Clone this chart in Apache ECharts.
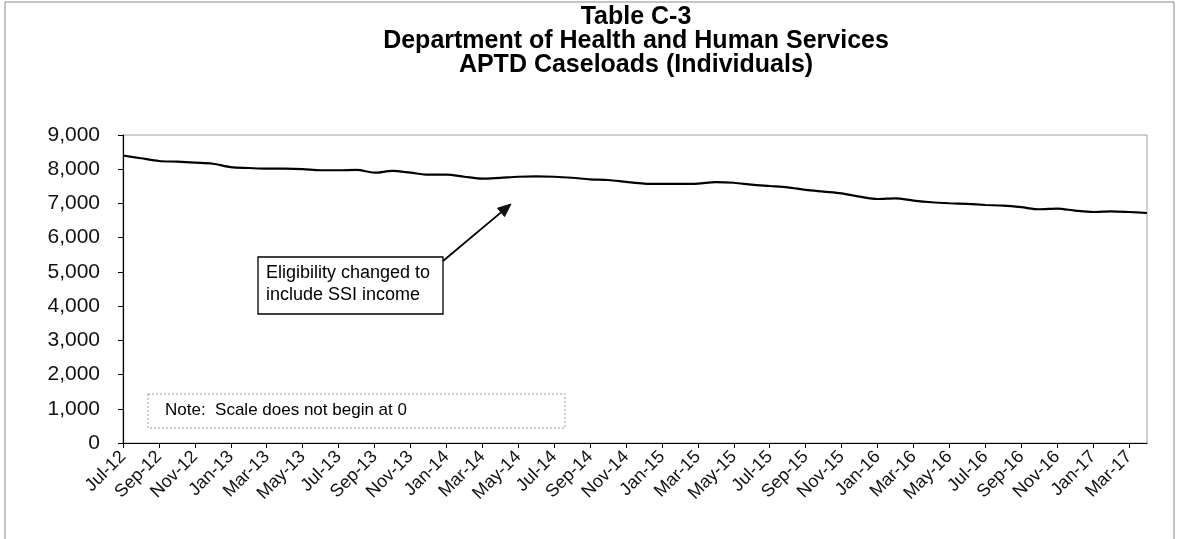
<!DOCTYPE html>
<html>
<head>
<meta charset="utf-8">
<script src="https://cdn.jsdelivr.net/npm/echarts@6/dist/echarts.min.js"></script>
<style>
  html, body { margin: 0; padding: 0; background: #fff; }
  #chart { width: 1179px; height: 539px; }
</style>
</head>
<body>
<div id="chart"></div>
<script>
const titleLines = ['Table C-3', 'Department of Health and Human Services', 'APTD Caseloads (Individuals)'];
const months = [
  'Jul-12','Aug-12','Sep-12','Oct-12','Nov-12','Dec-12',
  'Jan-13','Feb-13','Mar-13','Apr-13','May-13','Jun-13','Jul-13','Aug-13','Sep-13','Oct-13','Nov-13','Dec-13',
  'Jan-14','Feb-14','Mar-14','Apr-14','May-14','Jun-14','Jul-14','Aug-14','Sep-14','Oct-14','Nov-14','Dec-14',
  'Jan-15','Feb-15','Mar-15','Apr-15','May-15','Jun-15','Jul-15','Aug-15','Sep-15','Oct-15','Nov-15','Dec-15',
  'Jan-16','Feb-16','Mar-16','Apr-16','May-16','Jun-16','Jul-16','Aug-16','Sep-16','Oct-16','Nov-16','Dec-16',
  'Jan-17','Feb-17','Mar-17','Apr-17'
];
const caseloads = [
  8400, 8320, 8240, 8220, 8190, 8160,
  8060, 8035, 8015, 8015, 8005, 7970, 7970, 7980, 7900, 7950, 7900, 7840,
  7840, 7780, 7725, 7750, 7780, 7790, 7780, 7750, 7705, 7685, 7630, 7580,
  7570, 7570, 7580, 7625, 7605, 7550, 7510, 7470, 7395, 7345, 7295, 7200,
  7130, 7150, 7085, 7035, 7005, 6985, 6955, 6935, 6890, 6830, 6850, 6790,
  6750, 6770, 6750, 6720
];
const annotationText = ['Eligibility changed to', 'include SSI income'];
const noteText = 'Note:  Scale does not begin at 0';

const chart = echarts.init(document.getElementById('chart'));

// arrow geometry (annotation only)
const tail = [443, 261], tip = [511, 204];
const dx = tip[0] - tail[0], dy = tip[1] - tail[1];
const len = Math.sqrt(dx * dx + dy * dy);
const ux = dx / len, uy = dy / len;
const hl = 13, hw = 5.5;
const bx = tip[0] - hl * ux, by = tip[1] - hl * uy;
const head = [[tip[0], tip[1]], [bx - hw * uy, by + hw * ux], [bx + hw * uy, by - hw * ux]];

const font = 'Arial, "Liberation Sans", sans-serif';

chart.setOption({
  backgroundColor: '#fff',
  animation: false,
  grid: {
    left: 123, right: 32, top: 135, bottom: 96,
    containLabel: false, outerBoundsMode: 'none',
    show: true, borderColor: '#a0a0a0', borderWidth: 1, backgroundColor: 'transparent'
  },
  xAxis: {
    type: 'category',
    data: months,
    boundaryGap: false,
    axisLine: { lineStyle: { color: '#000', width: 1.2 } },
    axisTick: { show: true, interval: 1, length: 5, lineStyle: { color: '#000' } },
    axisLabel: {
      interval: 1, rotate: 45, color: '#111', fontFamily: font, fontSize: 18, margin: 11
    },
    splitLine: { show: false }
  },
  yAxis: {
    type: 'value',
    min: 0, max: 9000, interval: 1000,
    axisLine: { show: true, lineStyle: { color: '#000', width: 1.2 } },
    axisTick: { show: true, length: 5, lineStyle: { color: '#000' } },
    axisLabel: {
      color: '#111', fontFamily: font, fontSize: 21, margin: 23,
      formatter: v => v.toLocaleString('en-US')
    },
    splitLine: { show: false }
  },
  series: [{
    type: 'line',
    data: caseloads,
    showSymbol: false,
    symbol: 'none',
    smooth: 0.3,
    lineStyle: { color: '#000', width: 2.2 },
    z: 5
  }],
  graphic: [
    { type: 'rect', shape: { x: 5, y: 2, width: 1169, height: 600 },
      style: { fill: 'none', stroke: '#8a8a8a', lineWidth: 1 }, silent: true, z: 0 },
    { type: 'text', x: 636, y: 5, style: { text: titleLines.join('\n'), font: 'bold 25px ' + font,
      fill: '#000', textAlign: 'center', lineHeight: 24 } },
    { type: 'rect', shape: { x: 258, y: 257, width: 185, height: 57 },
      style: { fill: '#fff', stroke: '#000', lineWidth: 1.3 }, z: 10 },
    { type: 'text', x: 266, y: 262, z: 11, style: { text: annotationText.join('\n'),
      font: '18px ' + font, fill: '#000', lineHeight: 22 } },
    { type: 'line', shape: { x1: tail[0], y1: tail[1], x2: bx, y2: by },
      style: { stroke: '#000', lineWidth: 1.8 }, z: 10 },
    { type: 'polygon', shape: { points: head }, style: { fill: '#111', stroke: '#111' }, z: 10 },
    { type: 'rect', shape: { x: 148, y: 394, width: 417, height: 34 },
      style: { fill: '#fff', stroke: '#9a9a9a', lineWidth: 1, lineDash: [2, 2] }, z: 10 },
    { type: 'text', x: 165, y: 402, z: 11, style: { text: noteText, font: '17px ' + font, fill: '#000' } }
  ]
});
</script>
</body>
</html>
